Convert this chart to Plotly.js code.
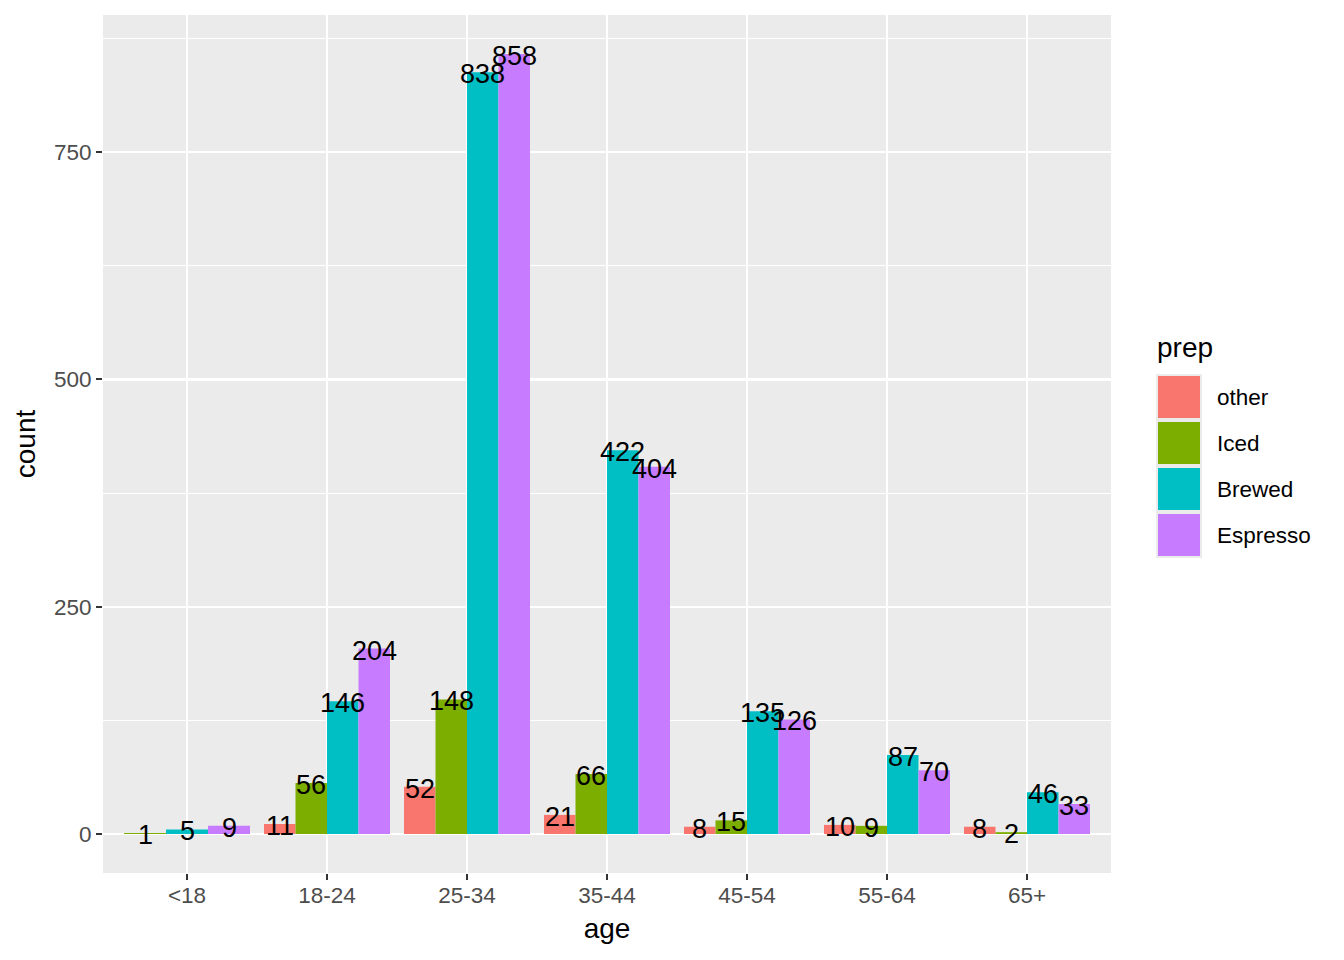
<!DOCTYPE html>
<html>
<head>
<meta charset="utf-8">
<script src="https://cdn.plot.ly/plotly-3.0.1.min.js"></script>
<style>
  body { margin: 0; background: #ffffff; }
  #chart { width: 1344px; height: 960px; }
</style>
</head>
<body>
<div id="chart"></div>
<script>
// age groups on the x axis
var ages = ['<18', '18-24', '25-34', '35-44', '45-54', '55-64', '65+'];

// counts per preparation method (null = no bar in that group)
var preps = ['other', 'Iced', 'Brewed', 'Espresso'];
var otherCounts    = [null, 11, 52, 21, 8, 10, 8];
var icedCounts     = [1, 56, 148, 66, 15, 9, 2];
var brewedCounts   = [5, 146, 838, 422, 135, 87, 46];
var espressoCounts = [9, 204, 858, 404, 126, 70, 33];

var yTicks = [0, 250, 500, 750];
var yMinorTicks = [125, 375, 625, 875];

var colors = ['#F8766D', '#7CAE00', '#00BFC4', '#C77CFF'];
var font = 'Liberation Sans, Arial, Helvetica, sans-serif';

var series = [otherCounts, icedCounts, brewedCounts, espressoCounts];

// ggplot-style dodge: groups that are present share the 0.9 slot
var bx = [[], [], [], []], by = [[], [], [], []], bw = [[], [], [], []];
var labels = [];
ages.forEach(function (a, i) {
    var present = [];
    series.forEach(function (s, k) { if (s[i] !== null) present.push(k); });
    var w = 0.9 / present.length;
    present.forEach(function (k, j) {
        var c = i - 0.45 + w * (j + 0.5);
        bx[k].push(c); by[k].push(series[k][i]); bw[k].push(w);
        labels.push({x: c, y: series[k][i]});
    });
});

var data = [];
preps.forEach(function (p, k) {
    data.push({
        type: 'bar',
        name: p,
        x: bx[k],
        y: by[k],
        width: bw[k],
        marker: {color: colors[k], line: {width: 0}},
        showlegend: false,
        hoverinfo: 'x+y+name'
    });
});

// count labels centred on the top of each bar
var annotations = labels.map(function (d) {
    return {
        xref: 'x', yref: 'y', x: d.x, y: d.y,
        xanchor: 'center', yanchor: 'middle', yshift: -2,
        showarrow: false, text: String(d.y),
        font: {family: font, size: 27, color: '#000000'}
    };
});

// panel in pixels, used for the hand-made legend
var L = 103, R = 1111, T = 15, B = 873;
function px(x) { return (x - L) / (R - L); }
function py(y) { return (B - y) / (B - T); }

var shapes = [];
annotations.push({
    xref: 'paper', yref: 'paper', x: px(1155), y: py(347),
    xanchor: 'left', yanchor: 'middle', showarrow: false,
    text: 'prep', font: {family: font, size: 28, color: '#000000'}
});
preps.forEach(function (p, k) {
    var top = 374 + 46 * k;
    shapes.push({
        type: 'rect', xref: 'paper', yref: 'paper', layer: 'above',
        x0: px(1156), x1: px(1202), y0: py(top), y1: py(top + 46),
        fillcolor: '#EBEBEB', line: {width: 0}
    });
    shapes.push({
        type: 'rect', xref: 'paper', yref: 'paper', layer: 'above',
        x0: px(1158), x1: px(1200), y0: py(top + 2), y1: py(top + 44),
        fillcolor: colors[k], line: {width: 0}
    });
    annotations.push({
        xref: 'paper', yref: 'paper', x: px(1215), y: py(top + 23),
        xanchor: 'left', yanchor: 'middle', showarrow: false,
        text: p, font: {family: font, size: 22.5, color: '#000000'}
    });
});

var axisCommon = {
    showgrid: true,
    gridcolor: '#FFFFFF',
    gridwidth: 2.2,
    zeroline: false,
    showline: false,
    ticks: 'outside',
    ticklen: 6,
    tickwidth: 2,
    tickcolor: '#333333',
    tickfont: {family: font, size: 22.5, color: '#4D4D4D'},
    automargin: false
};

var layout = {
    width: 1344,
    height: 960,
    margin: {l: L, r: 1344 - R, t: T, b: 960 - B},
    paper_bgcolor: '#FFFFFF',
    plot_bgcolor: '#EBEBEB',
    barmode: 'overlay',
    showlegend: false,
    xaxis: Object.assign({}, axisCommon, {
        range: [-0.6, 6.6],
        tickmode: 'array',
        tickvals: ages.map(function (a, i) { return i; }),
        ticktext: ages,
        ticklabelstandoff: -4,
        title: {text: 'age', font: {family: font, size: 28, color: '#000000'}, standoff: 11}
    }),
    yaxis: Object.assign({}, axisCommon, {
        range: [-42.9, 900.9],
        tickmode: 'array',
        tickvals: yTicks,
        ticktext: yTicks.map(String),
        minor: {tickmode: 'array', tickvals: yMinorTicks, showgrid: true,
                gridcolor: '#FFFFFF', gridwidth: 1.1, ticks: ''},
        title: {text: 'count', font: {family: font, size: 28, color: '#000000'}, standoff: 10}
    }),
    shapes: shapes,
    annotations: annotations
};

Plotly.newPlot('chart', data, layout, {displayModeBar: false, staticPlot: true});
</script>
</body>
</html>
